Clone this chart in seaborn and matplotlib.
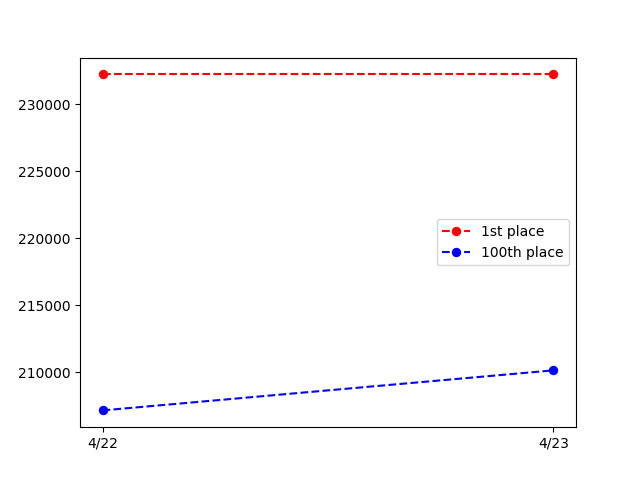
import seaborn as sns
import matplotlib.pyplot as plt

dates = ['4/22', '4/23']
first_place = [232240, 232240]
hundredth_place = [207160, 210150]

fig, ax = plt.subplots(figsize=(6.4, 4.8), dpi=100)
sns.lineplot(x=dates, y=first_place, ax=ax, color='red', marker='o',
             linestyle='--', markeredgecolor='red', markersize=6, label='1st place')
sns.lineplot(x=dates, y=hundredth_place, ax=ax, color='blue', marker='o',
             linestyle='--', markeredgecolor='blue', markersize=6, label='100th place')
ax.legend(loc='center right')
plt.savefig('out.png')
